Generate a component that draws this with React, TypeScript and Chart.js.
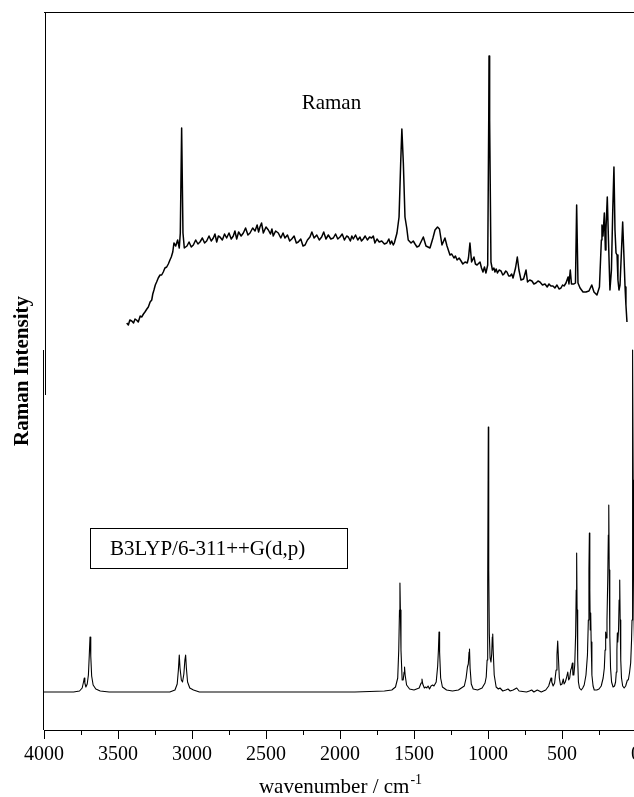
import React, { useEffect, useRef } from 'react';
import { Chart, registerables } from 'chart.js';

Chart.register(...registerables);

// ---- Data (wavenumber in cm^-1, Raman intensity in arbitrary units) ----
const xTickValues = [4000, 3500, 3000, 2500, 2000, 1500, 1000, 500, 0];

// Experimental FT-Raman spectrum [wavenumber, intensity]
const ramanExperimental: [number, number][] = [
  [3441, 407], [3430, 405], [3420, 410], [3407, 409], [3395, 407], [3385, 411], [3375, 410], [3363, 408], [3350, 414], [3340, 413],
  [3328, 416], [3318, 418], [3305, 421], [3295, 423], [3283, 428], [3272, 430], [3265, 436], [3257, 440], [3248, 445], [3239, 448],
  [3228, 452], [3216, 455], [3205, 455], [3194, 458], [3183, 462], [3171, 463], [3160, 466], [3149, 470], [3140, 473], [3130, 478],
  [3122, 487], [3110, 484], [3097, 490], [3086, 482], [3079, 497],
  [3070, 602], [3061, 497], [3052, 482], [3034, 484], [3020, 488], [3005, 483], [2991, 485], [2975, 490], [2960, 486], [2946, 488],
  [2930, 492], [2915, 487], [2901, 489], [2885, 494], [2870, 489], [2856, 492], [2845, 496], [2833, 488], [2822, 494], [2811, 493],
  [2795, 490], [2780, 496], [2766, 492], [2750, 497], [2735, 491], [2721, 494], [2710, 499], [2698, 491], [2685, 498], [2668, 494],
  [2653, 497], [2638, 502], [2622, 495], [2608, 497], [2590, 502], [2574, 499], [2560, 505], [2550, 498], [2541, 503], [2530, 507],
  [2518, 497], [2500, 503], [2484, 500], [2470, 496], [2460, 501], [2451, 494], [2435, 499], [2417, 497], [2400, 492], [2385, 497],
  [2372, 492], [2355, 495], [2340, 489], [2326, 491], [2310, 494], [2295, 487], [2282, 488], [2265, 491], [2250, 484], [2236, 485],
  [2220, 490], [2203, 493], [2190, 498], [2175, 492], [2157, 495], [2140, 490], [2124, 493], [2110, 498], [2095, 491], [2079, 495],
  [2062, 491], [2045, 492], [2030, 496], [2015, 491], [2000, 493], [1985, 496], [1970, 490], [1955, 494], [1944, 493], [1930, 489],
  [1920, 494], [1910, 491], [1895, 495], [1880, 490], [1865, 493], [1855, 489], [1843, 491], [1830, 494], [1815, 490], [1800, 493],
  [1786, 492], [1775, 494], [1764, 487], [1750, 491], [1735, 488], [1718, 489], [1700, 486], [1684, 487], [1670, 491], [1660, 486],
  [1651, 489], [1640, 485], [1633, 487],
  [1615, 497], [1601, 513], [1590, 567], [1582, 601], [1572, 567], [1561, 513], [1549, 502], [1539, 490], [1520, 487], [1505, 489],
  [1493, 486], [1480, 483], [1466, 484], [1437, 493], [1419, 484], [1392, 482], [1372, 492], [1358, 500], [1341, 503], [1328, 501],
  [1311, 485], [1291, 492], [1277, 484], [1257, 475], [1245, 476], [1230, 472], [1220, 474], [1209, 470], [1195, 472], [1182, 469],
  [1170, 466], [1155, 468], [1140, 467], [1132, 472], [1122, 487], [1111, 468], [1095, 473], [1085, 466],
  [1074, 465], [1054, 468], [1044, 462], [1034, 458], [1024, 463], [1014, 457], [1002, 465], [995, 610], [993, 674], [989, 610],
  [980, 468], [970, 460], [960, 462], [953, 458], [945, 461], [936, 457], [925, 460], [912, 459], [900, 455], [892, 456],
  [880, 459], [872, 458], [860, 454], [851, 454], [840, 456], [831, 452], [814, 462], [802, 473], [791, 460],
  [777, 450], [760, 451], [743, 460], [733, 448], [718, 450], [703, 449], [690, 446], [676, 447], [662, 449], [649, 448],
  [632, 445], [615, 446], [600, 443], [588, 446], [575, 444], [561, 444], [548, 442],
  [534, 445], [520, 441], [507, 442], [496, 445], [486, 444], [473, 447], [459, 453], [453, 446], [444, 460], [436, 446],
  [419, 446], [409, 447],
  [401, 525], [392, 447], [378, 442], [358, 438], [338, 438], [318, 439], [299, 445], [284, 438], [264, 435], [247, 443],
  [234, 490], [230, 505], [223, 494], [214, 517], [207, 480], [203, 500], [194, 533], [186, 490], [176, 440], [166, 460],
  [157, 520], [149, 563], [142, 500], [135, 477], [128, 475], [122, 450], [115, 440], [108, 445], [98, 480], [90, 508],
  [83, 480], [74, 443], [68, 425], [61, 408],
];

// Calculated B3LYP/6-311++G(d,p) Raman spectrum [wavenumber, intensity]
const ramanCalculated: [number, number][] = [
  [4000, 38], [3800, 38], [3760, 39], [3742, 42], [3733, 48], [3728, 52], [3724, 47], [3717, 43], [3708, 46], [3700, 55],
  [3694, 75], [3689, 93], [3684, 74], [3678, 54], [3668, 45], [3650, 41], [3620, 39], [3560, 38], [3300, 38], [3150, 38],
  [3115, 40], [3100, 46], [3092, 60], [3086, 75], [3081, 62], [3072, 50], [3064, 48], [3055, 56], [3048, 70], [3043, 75],
  [3038, 62], [3030, 48], [3015, 42], [2990, 40], [2950, 38], [2500, 38], [1900, 38], [1700, 39], [1650, 40], [1625, 43],
  [1610, 52], [1603, 80], [1598, 120], [1595, 147], [1592, 120], [1588, 80], [1580, 50], [1573, 50], [1567, 58], [1564, 63],
  [1560, 55], [1550, 45], [1530, 41], [1500, 40], [1465, 42], [1452, 47], [1446, 51], [1441, 46], [1430, 42], [1420, 43],
  [1414, 42], [1405, 44], [1395, 41], [1385, 44], [1374, 45], [1365, 44], [1350, 48], [1340, 64], [1335, 80], [1331, 98],
  [1327, 78], [1320, 52], [1308, 43], [1280, 40], [1240, 39], [1200, 40], [1160, 44], [1148, 52], [1139, 63], [1133, 66],
  [1128, 78], [1125, 81], [1121, 62], [1113, 46], [1100, 41], [1070, 40], [1040, 42], [1020, 47], [1012, 53], [1006, 70],
  [1002, 150], [998, 303], [995, 160], [991, 96], [986, 72], [980, 68], [975, 76], [971, 93], [968, 96], [965, 80],
  [958, 55], [945, 43], [930, 41], [919, 42], [900, 39], [880, 40], [865, 41], [850, 39], [830, 40], [806, 42],
  [790, 39], [740, 38], [720, 39], [705, 40], [690, 38], [667, 40], [640, 38], [610, 40], [590, 44], [580, 49],
  [574, 52], [569, 48], [560, 44], [550, 47], [540, 60], [534, 75], [529, 89], [525, 75], [518, 52], [510, 45],
  [500, 46], [491, 51], [486, 46], [478, 48], [470, 52], [461, 58], [455, 50], [448, 52], [441, 60], [436, 62],
  [430, 67], [426, 55], [420, 55], [414, 65], [408, 95], [404, 140], [401, 177], [398, 120], [394, 70], [389, 48],
  [382, 42], [370, 40], [360, 42], [350, 45], [338, 55], [328, 75], [322, 110], [318, 160], [315, 197], [312, 140],
  [309, 100], [306, 117], [303, 88], [298, 55], [290, 44], [282, 40], [265, 40], [250, 41], [235, 44], [222, 52],
  [214, 62], [209, 80], [205, 98], [201, 92], [196, 110], [191, 150], [187, 195], [184, 225], [181, 160], [177, 95],
  [172, 62], [165, 48], [155, 43], [145, 44], [138, 48], [133, 58], [129, 80], [126, 97], [123, 88], [118, 100],
  [114, 130], [110, 150], [107, 110], [103, 70], [98, 52], [90, 44], [80, 42], [70, 44], [58, 50], [52, 50],
  [44, 57], [36, 67], [30, 90], [27, 110], [24, 200], [22, 380], [19, 250], [16, 160], [13, 110], [8, 70],
  [4, 58], [0, 52],
];

const Y_MAX = 718;
const UPPER_PANEL_BOTTOM = 335; // lower end of the upper panel's left axis
const LOWER_PANEL_TOP = 380; // upper end of the lower panel's left axis

const SERIF = '"Liberation Serif", "Times New Roman", serif';

const framePlugin = {
  id: 'frame',
  afterDraw(chart: any) {
    const { ctx, chartArea: ca, scales } = chart;
    const xs = scales.x;
    const ys = scales.y;
    ctx.save();
    ctx.strokeStyle = '#000';
    ctx.fillStyle = '#000';
    ctx.lineWidth = 1;

    // top border of the upper panel
    ctx.beginPath();
    ctx.moveTo(ca.left, Math.round(ca.top) + 0.5);
    ctx.lineTo(chart.width, Math.round(ca.top) + 0.5);
    ctx.stroke();

    // left axis of upper panel
    ctx.beginPath();
    ctx.moveTo(ca.left + 1.5, ca.top);
    ctx.lineTo(ca.left + 1.5, ys.getPixelForValue(UPPER_PANEL_BOTTOM));
    ctx.stroke();
    // left axis of lower panel
    ctx.beginPath();
    ctx.moveTo(ca.left - 0.5, ys.getPixelForValue(LOWER_PANEL_TOP));
    ctx.lineTo(ca.left - 0.5, ca.bottom);
    ctx.stroke();

    // x tick marks (major every 500, minor every 250), outward
    for (let t = 0; t <= 4000; t += 250) {
      const px = Math.round(xs.getPixelForValue(t)) + 0.5;
      const len = t % 500 === 0 ? 9 : 5;
      ctx.beginPath();
      ctx.moveTo(px, ca.bottom);
      ctx.lineTo(px, ca.bottom + len);
      ctx.stroke();
    }

    // x title with superscript
    const cx = (ca.left + ca.right) / 2;
    ctx.font = `21px ${SERIF}`;
    const main = 'wavenumber / cm';
    const mw = ctx.measureText(main).width;
    ctx.font = `14px ${SERIF}`;
    const sup = '-1';
    const sw = ctx.measureText(sup).width;
    const start = cx - (mw + sw) / 2;
    ctx.textAlign = 'left';
    ctx.textBaseline = 'alphabetic';
    ctx.font = `21px ${SERIF}`;
    ctx.fillText(main, start, 793);
    ctx.font = `14px ${SERIF}`;
    ctx.fillText(sup, start + mw + 1, 784);

    // y title
    ctx.save();
    ctx.translate(28, (ca.top + ca.bottom) / 2);
    ctx.rotate(-Math.PI / 2);
    ctx.font = `bold 21px ${SERIF}`;
    ctx.textAlign = 'center';
    ctx.fillText('Raman Intensity', 0, 0);
    ctx.restore();

    // "Raman" label of the experimental trace
    ctx.font = `21px ${SERIF}`;
    ctx.textAlign = 'left';
    ctx.fillText('Raman', xs.getPixelForValue(2259), ys.getPixelForValue(621));

    // boxed label of the calculated trace
    const bx1 = Math.round(xs.getPixelForValue(3689)) + 0.5;
    const bx2 = Math.round(xs.getPixelForValue(1955)) + 0.5;
    const by1 = Math.round(ys.getPixelForValue(202)) + 0.5;
    const by2 = Math.round(ys.getPixelForValue(162)) + 0.5;
    ctx.strokeRect(bx1, by1, bx2 - bx1, by2 - by1);
    ctx.fillText('B3LYP/6-311++G(d,p)', xs.getPixelForValue(3554), ys.getPixelForValue(175));

    ctx.restore();
  },
};

export default function App() {
  const ref = useRef<HTMLCanvasElement>(null);

  useEffect(() => {
    if (!ref.current) return;
    const chart = new Chart(ref.current, {
      type: 'line',
      data: {
        datasets: [
          {
            label: 'Raman',
            data: ramanExperimental.map(([x, y]) => ({ x, y })),
            borderColor: '#000',
            borderWidth: 1.5,
            pointRadius: 0,
            fill: false,
            tension: 0,
          },
          {
            label: 'B3LYP/6-311++G(d,p)',
            data: ramanCalculated.map(([x, y]) => ({ x, y })),
            borderColor: '#000',
            borderWidth: 1.1,
            pointRadius: 0,
            fill: false,
            tension: 0,
          },
        ],
      },
      options: {
        animation: false,
        responsive: false,
        maintainAspectRatio: false,
        layout: { padding: { left: 44, top: 12, right: 24, bottom: 0 } },
        plugins: { legend: { display: false }, tooltip: { enabled: false } },
        elements: { line: { borderJoinStyle: 'round' } },
        scales: {
          x: {
            type: 'linear',
            min: 0,
            max: 4000,
            reverse: true,
            afterBuildTicks: (scale: any) => {
              scale.ticks = xTickValues.map((v) => ({ value: v }));
            },
            ticks: {
              autoSkip: false,
              maxRotation: 0,
              color: '#000',
              padding: 13,
              font: { family: SERIF, size: 20 },
              callback: (value: any) => String(value),
            },
            grid: { display: false, drawTicks: false },
            border: { display: true, color: '#000', width: 1 },
            afterFit: (scale: any) => {
              scale.height = 67;
            },
          },
          y: { type: 'linear', min: 0, max: Y_MAX, display: false },
        },
      },
      plugins: [framePlugin],
    } as any);
    return () => chart.destroy();
  }, []);

  return (
    <div
      style={{
        position: 'fixed',
        left: 0,
        top: 0,
        width: 634,
        height: 797,
        overflow: 'hidden',
        background: '#fff',
      }}
    >
      <canvas ref={ref} width={660} height={797} style={{ display: 'block', width: 660, height: 797 }} />
    </div>
  );
}
